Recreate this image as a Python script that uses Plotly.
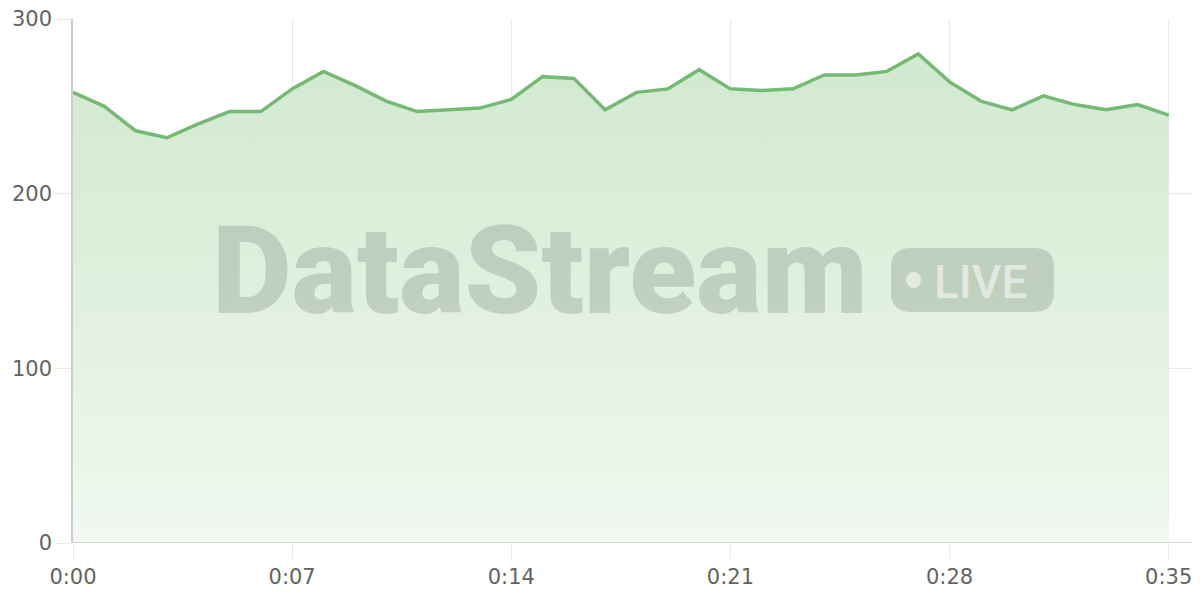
import plotly.graph_objects as go

# readings per second
seconds = list(range(36))
values = [258, 250, 236, 232, 240, 247, 247, 260, 270, 262,
          253, 247, 248, 249, 254, 267, 266, 248, 258, 260,
          271, 260, 259, 260, 268, 268, 270, 280, 264, 253,
          248, 256, 251, 248, 251, 245]

x_tickvals = [0, 7, 14, 21, 28, 35]
x_ticktext = ["0:00", "0:07", "0:14", "0:21", "0:28", "0:35"]
y_tickvals = [0, 100, 200, 300]

line_green = "#74b974"
grid = "#e9e9e9"
tick_font = dict(family="DejaVu Sans", size=21, color="#636363")
mark_gray = "rgba(110,125,110,0.28)"

fig = go.Figure()
fig.add_trace(go.Scatter(
    x=seconds, y=values,
    mode="lines",
    line=dict(color=line_green, width=3.5),
    fill="tozeroy",
    fillgradient=dict(
        type="vertical",
        start=0, stop=280,
        colorscale=[[0, "rgba(240,248,239,1)"], [1, "rgba(209,233,207,1)"]],
    ),
    hoverinfo="skip",
))

# watermark
fig.add_annotation(
    text="DataStream", xref="paper", yref="paper",
    x=0.4144, y=0.519, xanchor="center", yanchor="middle",
    showarrow=False,
    font=dict(family="Roboto", size=123, weight=900, color=mark_gray),
)

# LIVE badge
bx0, bx1, by0, by1 = 0.7258, 0.8705, 0.4408, 0.563
rx, ry = 0.0177, 0.038
badge = (f"M {bx0+rx},{by0} L {bx1-rx},{by0} Q {bx1},{by0} {bx1},{by0+ry} "
         f"L {bx1},{by1-ry} Q {bx1},{by1} {bx1-rx},{by1} "
         f"L {bx0+rx},{by1} Q {bx0},{by1} {bx0},{by1-ry} "
         f"L {bx0},{by0+ry} Q {bx0},{by0} {bx0+rx},{by0} Z")
fig.add_shape(type="path", path=badge, xref="paper", yref="paper",
              fillcolor=mark_gray, line=dict(width=0), layer="above")
fig.add_shape(type="circle", xref="paper", yref="paper",
              x0=0.7391, x1=0.7524, y0=0.4866, y1=0.5172,
              fillcolor="rgba(255,255,255,0.55)", line=dict(width=0), layer="above")
fig.add_annotation(
    text="LIVE", xref="paper", yref="paper",
    x=0.8057, y=0.499, xanchor="center", yanchor="middle",
    showarrow=False,
    font=dict(family="Roboto", size=46, weight=500, color="rgba(255,255,255,0.55)"),
)

# the page sits 8px in from the window corner, so the figure is shrunk to fit
fig.update_layout(
    width=1192, height=592,
    margin=dict(l=65, r=0, t=11, b=57),
    paper_bgcolor="white", plot_bgcolor="white",
    showlegend=False,
    xaxis=dict(
        range=[0, 36], tickvals=x_tickvals, ticktext=x_ticktext,
        showgrid=True, gridcolor=grid, gridwidth=1,
        zeroline=False, showline=False,
        ticks="outside", ticklen=15, tickcolor=grid,
        tickfont=tick_font, ticklabeloverflow="allow",
    ),
    yaxis=dict(
        range=[0, 300], tickvals=y_tickvals,
        showgrid=True, gridcolor=grid, gridwidth=1,
        zeroline=False, showline=True, linecolor="#cfcfcf", linewidth=1.5,
        ticks="outside", ticklen=15, tickcolor=grid,
        tickfont=tick_font, ticklabeloverflow="allow",
    ),
)
fig.add_hline(y=0, line=dict(color="#cfcfcf", width=1.5))

fig.write_html("out.html")
